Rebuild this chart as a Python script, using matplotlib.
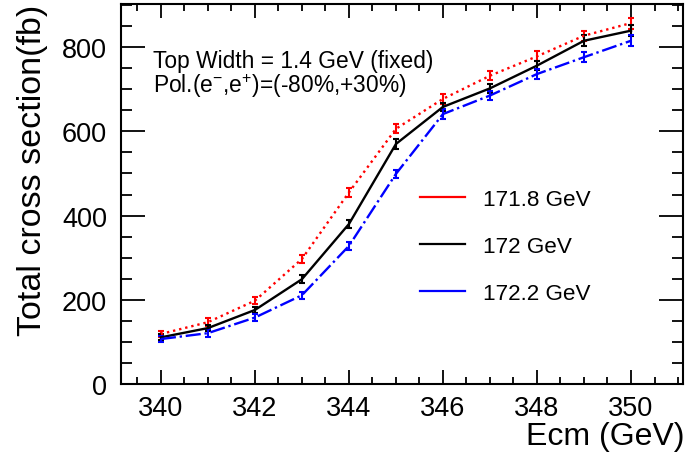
import matplotlib
matplotlib.use('Agg')
from matplotlib import pyplot as plt
from matplotlib.lines import Line2D
from matplotlib.ticker import MultipleLocator

plt.rcParams['font.family'] = ['Liberation Sans', 'DejaVu Sans']
plt.rcParams['mathtext.fontset'] = 'custom'
plt.rcParams['mathtext.rm'] = 'Liberation Sans'

# Centre-of-mass energies (GeV)
ecm = [340, 341, 342, 343, 344, 345, 346, 347, 348, 349, 350]

# Cross sections (fb) for each top mass
xs_1718 = [119, 147, 198, 297, 455, 606, 677, 732, 778, 827, 857]
xs_172 = [111, 133, 176, 249, 380, 570, 658, 702, 756, 815, 839]
xs_1722 = [107, 121, 158, 211, 328, 499, 641, 685, 736, 776, 815]

# Statistical errors (fb)
err_1718 = [8, 9, 9, 9, 10, 11, 11, 11, 12, 12, 13]
err_172 = [7, 8, 8, 9, 10, 12, 10, 11, 11, 13, 13]
err_1722 = [7, 9, 8, 8, 9, 10, 11, 11, 11, 12, 13]

labels = ['171.8 GeV', '172 GeV', '172.2 GeV']

fig = plt.figure(figsize=(6.91, 4.64), dpi=100)
ax = fig.add_axes([0.175, 0.170, 0.813, 0.819])

# Curves with error bars
ax.errorbar(ecm, xs_1718, yerr=err_1718, color='red', ls=':', lw=1.7,
            capsize=2.5, elinewidth=1.5, capthick=1.5)
ax.errorbar(ecm, xs_172, yerr=err_172, color='black', ls='-', lw=1.7,
            capsize=2.5, elinewidth=1.5, capthick=1.5)
ax.errorbar(ecm, xs_1722, yerr=err_1722, color='blue', ls='-.', lw=1.7,
            capsize=2.5, elinewidth=1.5, capthick=1.5)

ax.set_xlim(339.15, 351.1)
ax.set_ylim(0, 902)

# ROOT-like ticks on all four sides
ax.xaxis.set_major_locator(MultipleLocator(2))
ax.xaxis.set_minor_locator(MultipleLocator(0.5))
ax.yaxis.set_major_locator(MultipleLocator(200))
ax.yaxis.set_minor_locator(MultipleLocator(50))
ax.tick_params(axis='both', which='both', direction='in', top=True, right=True,
               labelsize=19.5, width=1.3)
ax.tick_params(axis='x', which='major', length=10, pad=8)
ax.tick_params(axis='x', which='minor', length=5)
ax.tick_params(axis='y', which='major', length=17, pad=10)
ax.tick_params(axis='y', which='minor', length=8)
for s in ax.spines.values():
    s.set_linewidth(1.5)

ax.set_xlabel('Ecm (GeV)', fontsize=23, loc='right', va='top')
ax.xaxis.set_label_coords(1.004, -0.098)
ax.set_ylabel('Total cross section(fb)', fontsize=24.5, loc='top')
ax.yaxis.set_label_coords(-0.13, 1.0)

# Annotation
fig.text(153 / 691, 1 - 68 / 464, 'Top Width = 1.4 GeV (fixed)', fontsize=16.4,
         va='baseline', ha='left')
fig.text(153 / 691, 1 - 93 / 464, r'Pol.(e$^{-}$,e$^{+}$)=(-80%,+30%)', fontsize=16.4,
         va='baseline', ha='left')

# Legend with solid line markers
handles = [Line2D([], [], color=c, lw=1.6) for c in ['red', 'black', 'blue']]
ax.legend(handles, labels, loc='upper left', bbox_to_anchor=(420 / 691, 1 - 190 / 464),
          bbox_transform=fig.transFigure, frameon=False, fontsize=16.2, borderpad=0,
          borderaxespad=0, handlelength=2.0, handletextpad=0.8, labelspacing=1.15)

fig.savefig('out.png', dpi=100)
